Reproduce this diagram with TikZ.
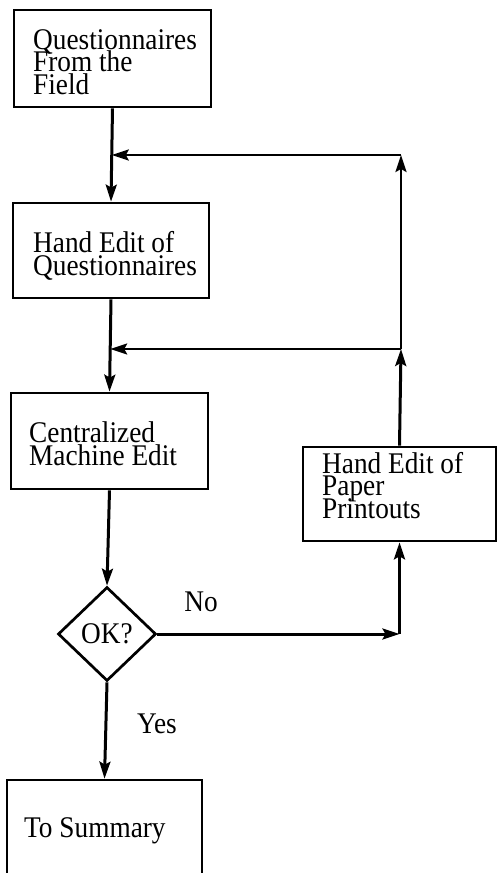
\documentclass[tikz,border=0pt]{standalone}
\usepackage{fontspec}
\setmainfont{Liberation Serif}[FakeStretch=0.91]
\usetikzlibrary{shapes.geometric,arrows.meta}
\newcommand{\diagfont}{\fontsize{30}{22.5}\selectfont\lineskiplimit=-30pt\relax}
\begin{document}
\begin{tikzpicture}[x=1pt,y=-1pt,
  box/.style={draw, line width=2.7pt, rectangle, inner sep=0pt},
  txt/.style={anchor=base west, align=left, inner sep=0pt, font=\diagfont},
  lbl/.style={anchor=base, inner sep=0pt, font=\diagfont},
  conn/.style={line width=3pt, -{Stealth[length=17pt,width=11pt,inset=3pt]}},
  thinconn/.style={line width=2.4pt, -{Stealth[length=17pt,width=11pt,inset=3pt]}}]
\useasboundingbox (0,0) rectangle (497,873);
\clip (0,0) rectangle (497,873);
% boxes
\node[box, minimum width=197pt, minimum height=97pt] (b1) at (112.5,58.5) {};
\node[box, minimum width=196pt, minimum height=95pt] (b2) at (111,250.5) {};
\node[box, minimum width=197pt, minimum height=96pt] (b3) at (109.5,441) {};
\node[box, minimum width=193pt, minimum height=94pt] (b4) at (399.5,494) {};
\node[box, minimum width=195pt, minimum height=120pt] (b5) at (104.5,840) {};
\node[draw, line width=2.7pt, diamond, aspect=1.04, minimum width=98pt, minimum height=94pt, inner sep=0pt, font=\diagfont] (d) at (107,634) {OK?};
% texts (anchor = baseline of the last line)
\node[txt] (t1) at (33,94) {Questionnaires\\From the\\Field};
\node[txt] (t2) at (33,275) {Hand Edit of\\Questionnaires};
\node[txt] (t3) at (29,465) {Centralized\\Machine Edit};
\node[txt] (t4) at (322,518) {Hand Edit of\\Paper\\Printouts};
\node[txt] (t5) at (24,837) {To Summary};
\node[lbl] (no) at (201,611) {No};
\node[lbl] (yes) at (157,733) {Yes};
% junctions
\coordinate (j1) at (111.8,155);
\coordinate (j2) at (110.2,349);
\coordinate (r1) at (401,155);
\coordinate (r2) at (401,349);
\coordinate (n1) at (399.5,634);
% connectors
\draw[conn] (b1.south) -- (b2.north);
\draw[conn] (b2.south) -- (b3.north);
\draw[conn] (b3.south) -- (d.north);
\draw[conn] (d.south) -- (b5.north);
\draw[conn] (d.east) -- (n1);
\draw[conn] (n1) -- (b4.south);
\draw[conn] (b4.north) -- (r2);
\draw[thinconn] (r2) -- (j2);
\draw[thinconn] (r2) -- (r1);
\draw[thinconn] (r1) -- (j1);
\end{tikzpicture}
\end{document}
